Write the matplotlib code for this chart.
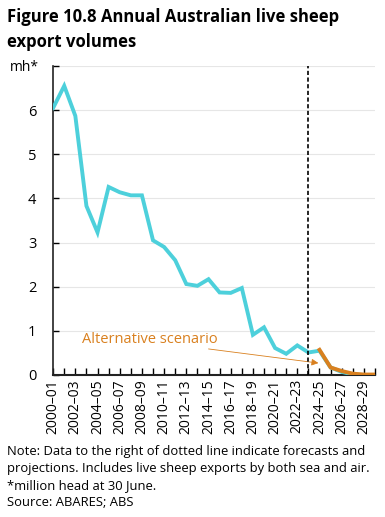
import matplotlib
matplotlib.use("Agg")
import matplotlib.pyplot as plt

plt.rcParams['font.family'] = ['Open Sans', 'DejaVu Sans']

years = [f"{y}\u2013{(y + 1) % 100:02d}" for y in range(2000, 2030)]
base = [6.05, 6.55, 5.87, 3.83, 3.23, 4.26, 4.14, 4.07, 4.07, 3.05,
        2.90, 2.60, 2.06, 2.02, 2.17, 1.87, 1.86, 1.97, 0.91, 1.08,
        0.61, 0.48, 0.67, 0.51, 0.55, 0.17, 0.07, 0.01, 0.0, 0.0]
alt_start = 24
alt = [0.57, 0.17, 0.09, 0.03, 0.01, 0.01]
yticks = [0, 1, 2, 3, 4, 5, 6]

cyan = '#4DD0DB'
orange = '#D9801F'

fig = plt.figure(figsize=(3.85, 5.17), dpi=100)
ax = fig.add_axes([0.138, 0.2747, 0.836, 0.5976])

x = list(range(len(years)))
ax.plot(x, base, color=cyan, lw=2.8, solid_joinstyle='miter', zorder=3)
ax.plot(x[alt_start:alt_start + len(alt)], alt, color=orange, lw=2.8, zorder=4)

ax.axvline(23, color='black', lw=1.2, ls=(0, (2.5, 1.5)), zorder=5)

ax.set_xlim(0, len(years) - 1)
ax.set_ylim(0, 7)
ax.set_yticks(range(0, 8))
ax.set_yticklabels([str(v) if v in yticks else '' for v in range(0, 8)])
ax.set_xticks(x)
ax.set_xticklabels([lab if i % 2 == 0 else '' for i, lab in enumerate(years)],
                   rotation=90, fontsize=10)
ax.tick_params(axis='y', direction='in', length=4, labelsize=10.5, pad=12, width=1)
ax.tick_params(axis='x', direction='in', length=5, pad=3, width=1)
ax.grid(axis='y', color='#e6e6e6', lw=0.8, zorder=0)
for s in ['top', 'right']:
    ax.spines[s].set_visible(False)
ax.spines['left'].set_color('#222222')
ax.spines['bottom'].set_color('#222222')
ax.spines['left'].set_linewidth(1.2)
ax.spines['bottom'].set_linewidth(1.5)

ax.text(2.6, 0.80, 'Alternative scenario', fontsize=10.5, color=orange,
        va='center', ha='left')
ax.annotate('', xy=(23.9, 0.27), xytext=(14.0, 0.59),
            arrowprops=dict(arrowstyle='-|>', color=orange, lw=0.6,
                            mutation_scale=10, shrinkA=0, shrinkB=0),
            annotation_clip=False)

fig.text(0.064, 0.869, 'mh*', fontsize=10, ha='center', va='center')

fig.text(0.018, 0.985, 'Figure 10.8 Annual Australian live sheep\nexport volumes',
         fontsize=12, fontweight='bold', va='top', ha='left', linespacing=1.5)

fig.text(0.018, 0.140,
         'Note: Data to the right of dotted line indicate forecasts and\n'
         'projections. Includes live sheep exports by both sea and air.\n'
         '*million head at 30 June.\n'
         'Source: ABARES; ABS',
         fontsize=9.4, va='top', ha='left', linespacing=1.4)

fig.savefig('out.png', dpi=100)
